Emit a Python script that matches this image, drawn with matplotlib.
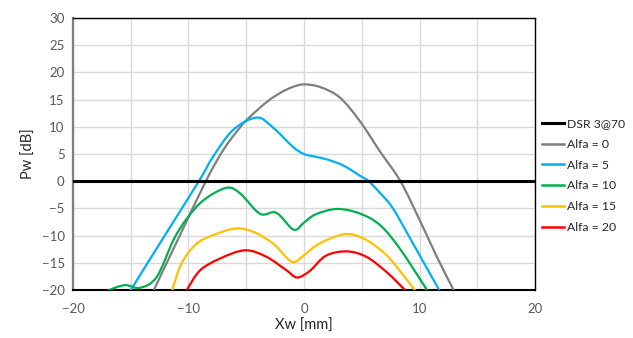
import numpy as np
import matplotlib
matplotlib.use("Agg")
import matplotlib.pyplot as plt
from matplotlib.path import Path
from matplotlib.patches import PathPatch

# valores (Xw em mm, Pw em dB)
x_a0 = [-13.0, -10.8, -8.5, -7.0, -5.5, -4.7, -3.2, -2.0, -1.0, 0.0, 1.4, 3.1, 4.85, 6.6, 8.35, 10.05, 11.5, 12.95]
y_a0 = [-20.0, -10.2, 0.0, 5.7, 10.0, 11.8, 14.6, 16.3, 17.3, 17.8, 17.3, 15.4, 11.0, 5.4, 0.0, -7.3, -13.9, -20.0]

x_a5 = [-15.0, -12.0, -9.1, -7.9, -6.15, -4.1, -2.7, -0.95, 0.0, 1.0, 2.0, 3.4, 4.85, 5.6, 6.6, 7.7, 9.45, 11.7]
y_a5 = [-20.0, -9.8, 0.0, 4.4, 9.4, 11.7, 9.9, 6.3, 5.0, 4.5, 4.0, 2.9, 1.0, 0.0, -2.2, -5.0, -11.5, -20.0]

x_a10 = [-16.9, -15.5, -14.2, -12.75, -11.3, -10.15, -8.7, -6.7, -5.5, -3.8, -2.4, -0.9, 0.0, 1.0, 2.85, 4.85, 6.6, 8.3, 10.65]
y_a10 = [-20.0, -19.1, -19.6, -17.6, -10.8, -6.9, -3.5, -1.2, -2.3, -6.0, -5.8, -8.9, -7.6, -6.1, -5.1, -5.95, -8.1, -12.4, -20.0]

x_a15 = [-11.4, -10.6, -9.3, -7.85, -5.95, -4.4, -2.65, -1.05, 0.0, 1.0, 2.2, 3.8, 5.4, 7.15, 8.6, 9.6]
y_a15 = [-20.0, -15.1, -11.5, -9.9, -8.7, -9.3, -11.5, -14.8, -13.6, -11.9, -10.6, -9.7, -10.8, -13.6, -17.3, -20.0]

x_a20 = [-10.15, -9.0, -7.25, -5.1, -3.25, -1.5, -0.6, 0.5, 1.9, 3.7, 5.4, 7.15, 8.75]
y_a20 = [-20.0, -16.4, -14.2, -12.7, -13.9, -16.4, -17.7, -16.5, -13.7, -12.9, -13.9, -16.7, -20.0]

x_dsr = [-20, 20]
y_dsr = [0, 0]

series = [
    ("Alfa = 0", x_a0, y_a0, "#7f7f7f"),
    ("Alfa = 5", x_a5, y_a5, "#00b0f0"),
    ("Alfa = 10", x_a10, y_a10, "#00b050"),
    ("Alfa = 15", x_a15, y_a15, "#ffc000"),
    ("Alfa = 20", x_a20, y_a20, "#ff0000"),
]


def linha_suave(ax, xs, ys, cor, lw=1.6):
    # curva suavizada tipo Excel (Catmull-Rom convertido em Bezier)
    p = np.column_stack([xs, ys]).astype(float)
    verts = [p[0]]
    codes = [Path.MOVETO]
    n = len(p)
    for i in range(n - 1):
        p0 = p[i - 1] if i > 0 else p[i]
        p1 = p[i]
        p2 = p[i + 1]
        p3 = p[i + 2] if i + 2 < n else p[i + 1]
        c1 = p1 + (p2 - p0) / 6.0
        c2 = p2 - (p3 - p1) / 6.0
        verts += [c1, c2, p2]
        codes += [Path.CURVE4] * 3
    patch = PathPatch(Path(verts, codes), facecolor="none", edgecolor=cor,
                      lw=lw, capstyle="round", joinstyle="round", zorder=3)
    ax.add_patch(patch)


plt.rcParams["font.family"] = ["Lato", "DejaVu Sans"]

fig = plt.figure(figsize=(6.33, 3.38), dpi=100)
ax = fig.add_axes([0.1153, 0.142, 0.7299, 0.8047])

ax.set_xlim(-20, 20)
ax.set_ylim(-20, 30)
ax.set_xticks(np.arange(-20, 21, 10))
ax.set_xticks(np.arange(-20, 21, 5), minor=True)
ax.set_yticks(np.arange(-20, 31, 5))
ax.grid(True, which="both", color="#d9d9d9", lw=1.0, zorder=0)
ax.set_axisbelow(True)
ax.tick_params(which="both", length=0, labelsize=9.5, labelcolor="#595959")
ax.tick_params(axis="x", pad=9)
ax.tick_params(axis="y", pad=6)

for lado in ["top", "right"]:
    ax.spines[lado].set_color("black")
    ax.spines[lado].set_linewidth(1.0)
ax.spines["bottom"].set_color("black")
ax.spines["bottom"].set_linewidth(1.5)
ax.spines["left"].set_color("#7f7f7f")
ax.spines["left"].set_linewidth(1.6)

handles = []
h, = ax.plot(x_dsr, y_dsr, color="black", lw=2.2, zorder=4, label="DSR 3@70")
handles.append(h)
for nome, xs, ys, cor in series:
    linha_suave(ax, xs, ys, cor)
    h, = ax.plot([], [], color=cor, lw=1.8, label=nome)
    handles.append(h)

ax.set_xlabel("Xw [mm]", fontsize=10.5, color="#262626", labelpad=3)
ax.set_ylabel("Pw [dB]", fontsize=10.5, color="#262626", labelpad=4)

ax.legend(handles=handles, loc="upper left", bbox_to_anchor=(1.0145, 0.632),
          frameon=False, fontsize=8.8, handlelength=1.85, handletextpad=0.2,
          labelspacing=0.8, borderaxespad=0, borderpad=0, labelcolor="#262626")

fig.savefig("out.png", dpi=100)
